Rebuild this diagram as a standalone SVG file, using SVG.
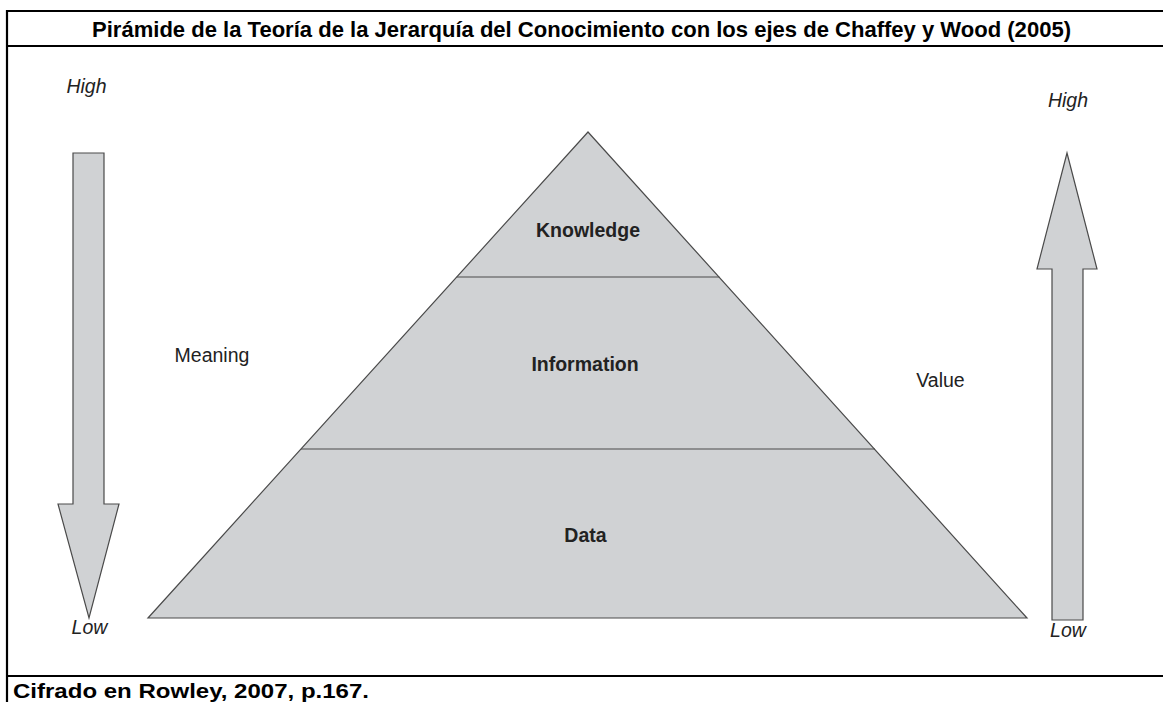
<svg xmlns="http://www.w3.org/2000/svg" width="1163" height="702" viewBox="0 0 1163 702">
<style>
.frame{stroke:#000;stroke-width:2.2;fill:none}
.shape{fill:#d0d2d4;stroke:#4a4a4a;stroke-width:1.2;stroke-linejoin:miter}
.lbl{font-family:"Liberation Sans",Arial,sans-serif;font-size:19.5px;fill:#222}
.b{font-weight:bold}
.i{font-style:italic}
.hdr{font-family:"Liberation Sans",Arial,sans-serif;font-weight:bold;fill:#000}
</style>
<rect width="1163" height="702" fill="#fff"/>
<g id="frame">
<line class="frame" x1="6" y1="11" x2="1163" y2="11"/>
<line class="frame" x1="6" y1="46" x2="1163" y2="46"/>
<line class="frame" x1="6" y1="676" x2="1163" y2="676"/>
<line class="frame" x1="7" y1="10" x2="7" y2="702"/>
<text class="hdr" x="92" y="37" font-size="21.5" textLength="979" lengthAdjust="spacingAndGlyphs">Pirámide de la Teoría de la Jerarquía del Conocimiento con los ejes de Chaffey y Wood (2005)</text>
<text class="hdr" x="13" y="698" font-size="21" textLength="356" lengthAdjust="spacingAndGlyphs">Cifrado en Rowley, 2007, p.167.</text>
</g>
<g id="pyramid">
<polygon class="shape" points="588,132 1027,618 148,618"/>
<line x1="456.8" y1="277" x2="719.4" y2="277" stroke="#4a4a4a" stroke-width="1.2"/>
<line x1="301" y1="449" x2="875" y2="449" stroke="#4a4a4a" stroke-width="1.2"/>
</g>
<g id="knowledge"><text class="lbl b" x="588" y="237" text-anchor="middle">Knowledge</text></g>
<g id="information"><text class="lbl b" x="585" y="371" text-anchor="middle">Information</text></g>
<g id="data"><text class="lbl b" x="585.5" y="542" text-anchor="middle">Data</text></g>
<g id="meaning-axis">
<polygon class="shape" points="73,153 104,153 104,504 119,504 89,618 58,504 73,504"/>
<text class="lbl i" x="86.5" y="93" text-anchor="middle">High</text>
<text class="lbl i" x="89.5" y="634" text-anchor="middle">Low</text>
<text class="lbl" x="212" y="362" text-anchor="middle">Meaning</text>
</g>
<g id="value-axis">
<polygon class="shape" points="1067,153 1097,269 1083,269 1083,620 1052,620 1052,269 1037,269"/>
<text class="lbl i" x="1068" y="107" text-anchor="middle">High</text>
<text class="lbl i" x="1068" y="637" text-anchor="middle">Low</text>
<text class="lbl" x="940.5" y="387" text-anchor="middle">Value</text>
</g>
</svg>
